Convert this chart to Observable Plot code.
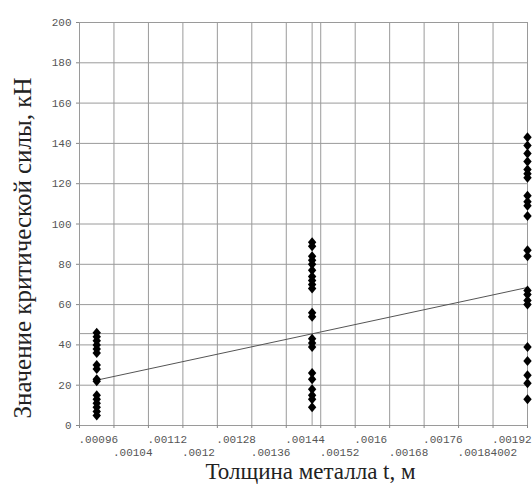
<!DOCTYPE html>
<html>
<head>
<meta charset="utf-8">
<script src="https://cdn.jsdelivr.net/npm/d3@7"></script>
<script src="https://cdn.jsdelivr.net/npm/@observablehq/plot@0.6"></script>
<style>
  html, body { margin: 0; padding: 0; background: #fff; }
  #chart svg { display: block; }
</style>
</head>
<body>
<div id="chart"></div>
<script>
// Thickness groups (m)
const thickness = [0.001, 0.0015, 0.002];
// Critical force values (kN) per thickness group
const force1 = [46, 44, 42, 40, 38, 36, 30, 28, 23, 22, 15, 13, 11, 9, 7, 5];
const force2 = [91, 89, 84, 82, 80, 77, 74, 72, 70, 68, 56, 54, 43, 41, 39, 26, 23, 18, 15, 13, 9];
const force3 = [143, 139, 135, 131, 127, 125, 123, 114, 111, 109, 104, 87, 84, 67, 65, 62, 60, 39, 32, 25, 21, 13];

// Fitted line end points
const fitT = [0.001, 0.002];
const fitF = [22.5, 68.5];
// Mean cross-hair
const meanT = [0.0015];
const meanF = [45.6];

// Axis ticks and labels
const xTickValues = [0.00096, 0.00104, 0.00112, 0.0012, 0.00128, 0.00136, 0.00144, 0.00152, 0.0016, 0.00168, 0.00176, 0.00184, 0.00192, 0.002];
const xTickLabels = [".00096", ".00104", ".00112", ".0012", ".00128", ".00136", ".00144", ".00152", ".0016", ".00168", ".00176", ".00184002", ".00192", ""];
const yTickValues = [0, 20, 40, 60, 80, 100, 120, 140, 160, 180, 200];

const xTitle = "Толщина металла t, м";
const yTitle = "Значение критической силы, кН";

const points = [];
[force1, force2, force3].forEach((arr, i) => arr.forEach(v => points.push({t: thickness[i], f: v})));
const fitLine = fitT.map((t, i) => ({t, f: fitF[i]}));
const labelRows = xTickValues.map((t, i) => ({t, label: xTickLabels[i], row: i % 2}));

const diamond = {
  draw(ctx) {
    ctx.moveTo(0, -5);
    ctx.lineTo(4.2, 0);
    ctx.lineTo(0, 5);
    ctx.lineTo(-4.2, 0);
    ctx.closePath();
  }
};

const mono = "'Liberation Mono', 'DejaVu Sans Mono', monospace";
const serif = "'Liberation Serif', 'DejaVu Serif', serif";

const chart = Plot.plot({
  width: 532,
  height: 491,
  marginLeft: 79,
  marginRight: 5,
  marginTop: 22,
  marginBottom: 66,
  style: {background: "#fff"},
  x: {domain: [0.00096, 0.002], axis: null},
  y: {domain: [0, 200], axis: null},
  marks: [
    Plot.gridX(xTickValues, {stroke: "#9a9a9a", strokeOpacity: 1}),
    Plot.gridY(yTickValues, {stroke: "#9a9a9a", strokeOpacity: 1}),
    Plot.ruleX(meanT, {stroke: "#9a9a9a"}),
    Plot.ruleY(meanF, {stroke: "#9a9a9a"}),
    Plot.axisY(yTickValues, {anchor: "left", tickSize: 3, tickPadding: 5, stroke: "#888", fill: "#555", fontFamily: mono, fontSize: 11, label: null}),
    Plot.axisX(xTickValues, {anchor: "bottom", tickSize: 3, stroke: "#888", tickFormat: () => "", label: null}),
    Plot.text(labelRows.filter(d => d.row === 0), {x: "t", text: "label", frameAnchor: "bottom", lineAnchor: "middle", dy: 14, dx: -1, textAnchor: "start", fill: "#555", fontFamily: mono, fontSize: 11}),
    Plot.text(labelRows.filter(d => d.row === 1), {x: "t", text: "label", frameAnchor: "bottom", lineAnchor: "middle", dy: 27, dx: -1, textAnchor: "start", fill: "#555", fontFamily: mono, fontSize: 11}),
    Plot.line(fitLine, {x: "t", y: "f", stroke: "#555", strokeWidth: 1}),
    Plot.dot(points, {x: "t", y: "f", symbol: diamond, fill: "#000", stroke: "none", r: 4}),
    Plot.text([xTitle], {text: d => d, frameAnchor: "bottom", lineAnchor: "middle", textAnchor: "middle", dy: 46, dx: 7, fontFamily: serif, fontSize: 23, fill: "#222"}),
    Plot.text([yTitle], {text: d => d, frameAnchor: "left", lineAnchor: "middle", textAnchor: "middle", dx: -57, dy: 24, rotate: -90, fontFamily: serif, fontSize: 25, fill: "#222"})
  ]
});
document.getElementById("chart").appendChild(chart);
</script>
</body>
</html>
